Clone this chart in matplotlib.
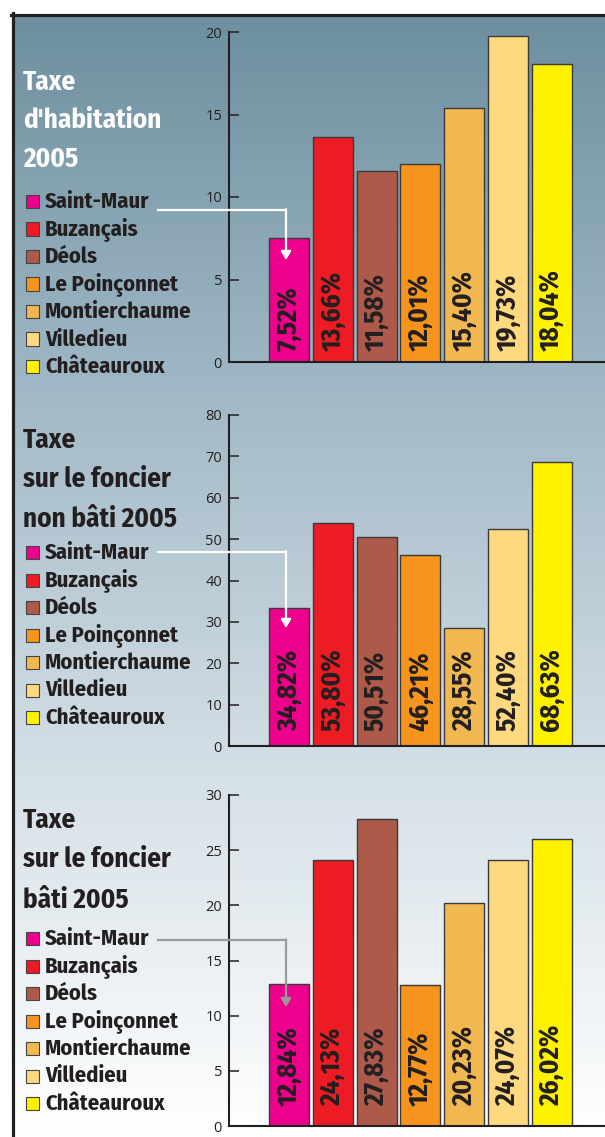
import numpy as np
import matplotlib
matplotlib.use("Agg")
import matplotlib.pyplot as plt
from matplotlib.colors import LinearSegmentedColormap
from matplotlib.patches import Rectangle, FancyArrowPatch
from matplotlib.lines import Line2D

# ---------------- data
communes = ["Saint-Maur", "Buzançais", "Déols", "Le Poinçonnet",
            "Montierchaume", "Villedieu", "Châteauroux"]
couleurs = ["#ec008c", "#ed1c24", "#ad5a4a", "#f7941d",
            "#f1b851", "#fed980", "#fff200"]

hab_vals = [7.52, 13.66, 11.58, 12.01, 15.40, 19.73, 18.04]
hab_labels = ["7,52%", "13,66%", "11,58%", "12,01%", "15,40%", "19,73%", "18,04%"]

fnb_vals = [33.3, 53.80, 50.51, 46.21, 28.55, 52.40, 68.63]   # barre Saint-Maur dessinée ~33
fnb_labels = ["34,82%", "53,80%", "50,51%", "46,21%", "28,55%", "52,40%", "68,63%"]

fb_vals = [12.84, 24.13, 27.83, 12.77, 20.23, 24.07, 26.02]
fb_labels = ["12,84%", "24,13%", "27,83%", "12,77%", "20,23%", "24,07%", "26,02%"]

W, H = 605, 1137
DARK = "#231f20"
COND = ["Fira Sans Condensed", "Roboto Condensed", "PT Sans Narrow",
        "Liberation Sans", "DejaVu Sans"]

fig = plt.figure(figsize=(W / 100, H / 100), dpi=100)

def fx(x):
    return x / W

def fy(y):
    return 1 - y / H

# ---------------- fond en dégradé
bg = fig.add_axes([fx(12), 0, 1 - fx(12), fy(14)], zorder=-5)
cmap = LinearSegmentedColormap.from_list(
    "fond", [(0, "#6d8f9f"), (0.33, "#a0b8c5"), (0.68, "#d5e0e7"), (1, "#ffffff")])
grad = np.linspace(0, 1, 512).reshape(-1, 1)
bg.imshow(grad, aspect="auto", cmap=cmap, extent=[0, 1, 1, 0])
bg.set_axis_off()

# cadre noir haut/gauche
fig.add_artist(Line2D([fx(11), 1], [fy(14.5), fy(14.5)], color=DARK, lw=2.3,
                      transform=fig.transFigure))
fig.add_artist(Line2D([fx(12.5), fx(12.5)], [fy(13), 0], color=DARK, lw=2.3,
                      transform=fig.transFigure))

panels = [
    dict(vals=hab_vals, labels=hab_labels, top=32, bot=362, ymax=20, step=5,
         titre=["Taxe", "d'habitation", "2005"], tbase=[90, 128, 167], tcol="white",
         lbase=208, fl_y=210, fl_end=260, fl_col="white", pad=11),
    dict(vals=fnb_vals, labels=fnb_labels, top=415, bot=746, ymax=80, step=10,
         titre=["Taxe", "sur le foncier", "non bâti 2005"], tbase=[448, 487, 527], tcol=DARK,
         lbase=559, fl_y=552, fl_end=628, fl_col="white", pad=15),
    dict(vals=fb_vals, labels=fb_labels, top=795, bot=1126, ymax=30, step=5,
         titre=["Taxe", "sur le foncier", "bâti 2005"], tbase=[828, 867, 908], tcol=DARK,
         lbase=945, fl_y=940, fl_end=1007, fl_col="#9a9a9a", pad=20),
]

x = np.arange(len(communes))
unit = 43.75          # px entre deux barres
x0 = 289              # centre de la 1re barre en px
ax_left = 229

for p in panels:
    ax = fig.add_axes([fx(ax_left), fy(p["bot"]), 1 - fx(ax_left), (p["bot"] - p["top"]) / H])
    ax.patch.set_visible(False)
    ax.bar(x, p["vals"], width=40 / unit, color=couleurs, edgecolor="#3a3a3a", linewidth=1.0)
    ax.set_xlim((ax_left - x0) / unit, (W - x0) / unit)
    ax.set_ylim(0, p["ymax"])
    ax.set_yticks(np.arange(0, p["ymax"] + 1, p["step"]))
    ax.set_xticks([])
    for s in ["top", "right"]:
        ax.spines[s].set_visible(False)
    for s in ["left", "bottom"]:
        ax.spines[s].set_color(DARK)
        ax.spines[s].set_linewidth(1.5)
    ax.tick_params(axis="y", direction="in", length=7, width=1.1, color=DARK,
                   labelcolor=DARK, labelsize=10.5, pad=5)
    for lab in ax.get_yticklabels():
        lab.set_family(["Open Sans", "DejaVu Sans"])

    for i, t in enumerate(p["labels"]):
        ax.annotate(t, (x[i], 0), xytext=(0, p["pad"] * 0.72), textcoords="offset points",
                    rotation=90, ha="center", va="bottom", fontsize=19.5,
                    fontweight="bold", color=DARK, family=COND)

    # titre
    for ligne, yb in zip(p["titre"], p["tbase"]):
        fig.text(fx(23), fy(yb), ligne, color=p["tcol"], fontsize=19.5, fontweight="bold",
                 family=COND, va="baseline", ha="left")

    # légende
    for k, (nom, c) in enumerate(zip(communes, couleurs)):
        yb = p["lbase"] + 27.5 * k
        fig.add_artist(Rectangle((fx(26), fy(yb)), 13 / W, 13 / H, facecolor=c,
                                 edgecolor="#444444", lw=0.8, transform=fig.transFigure))
        fig.text(fx(45), fy(yb), nom, color=DARK, fontsize=16.2, fontweight="bold",
                 family=COND, va="baseline", ha="left")

    # flèche Saint-Maur
    fig.add_artist(Line2D([fx(158), fx(286)], [fy(p["fl_y"]), fy(p["fl_y"])],
                          color=p["fl_col"], lw=1.6, transform=fig.transFigure))
    fig.add_artist(FancyArrowPatch((fx(286), fy(p["fl_y"] - 0.8)), (fx(286), fy(p["fl_end"])),
                                   arrowstyle="-|>,head_length=5,head_width=3",
                                   color=p["fl_col"], lw=1.6, shrinkA=0, shrinkB=0,
                                   transform=fig.transFigure))

fig.savefig("out.png", dpi=100)
